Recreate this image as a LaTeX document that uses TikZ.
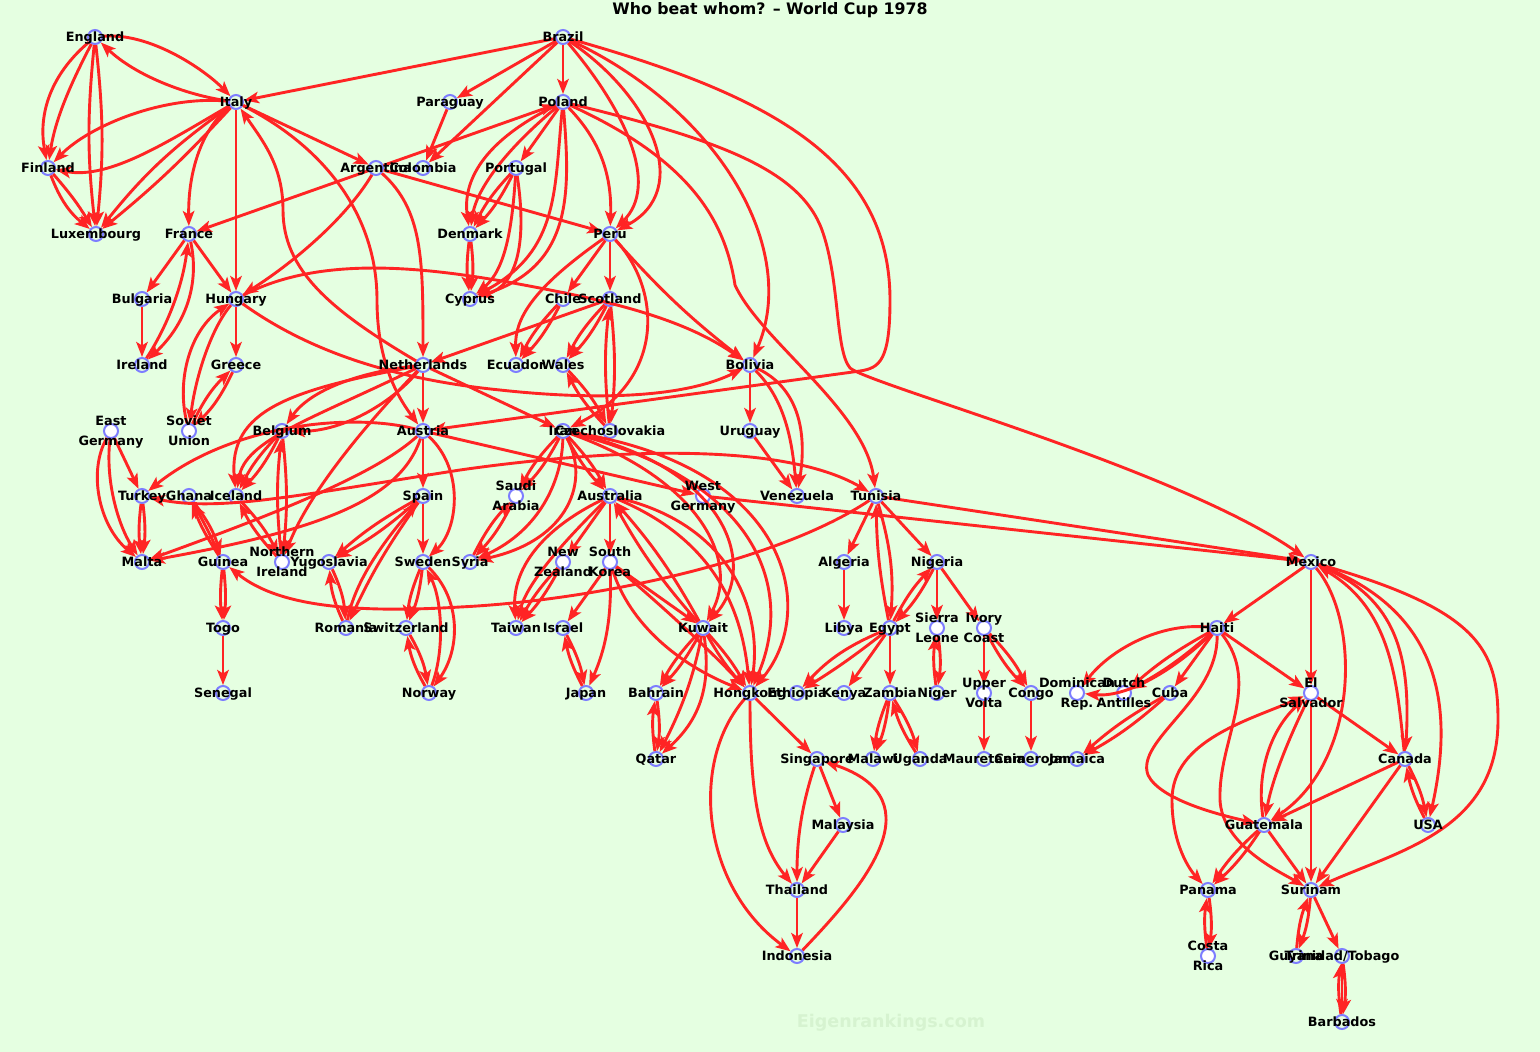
\documentclass[tikz,border=0pt]{standalone}
\usepackage{fontspec}
\setmainfont{DejaVu Sans}
\usepackage{tikz}
\usetikzlibrary{arrows.meta}

\definecolor{pagegreen}{RGB}{229,255,225}
\definecolor{markgreen}{RGB}{214,243,208}
\definecolor{gamered}{RGB}{255,36,36}
\definecolor{ringblue}{RGB}{125,125,255}

\tikzset{
  team/.style={circle, draw=ringblue, line width=2pt, minimum size=14pt, inner sep=0pt, fill=pagegreen},
  duo/.style={team, fill=white},
  lbl/.style={font=\fontsize{12.8}{15}\selectfont\bfseries, inner sep=0pt, anchor=base},
  game/.style={draw=gamered, line width=2.9pt, ->},
  twoway/.style={draw=gamered, line width=2.9pt, <->}
}

\begin{document}
\begin{tikzpicture}[x=1pt, y=-1pt, >={Stealth[length=15pt,width=11.5pt,inset=3.5pt]}]

\useasboundingbox (0,0) rectangle (1540,1052);
\fill[pagegreen] (0,0) rectangle (1540,1052);

\node[font=\fontsize{17.5}{20}\selectfont\bfseries, text=markgreen, anchor=base] (mark) at (891,1027) {Eigenrankings.com};
\node[font=\fontsize{15.8}{18}\selectfont\bfseries, anchor=base] (title) at (770,14) {Who beat whom? – World Cup 1978};

\foreach \n/\x/\y in {eng/95/37, bra/563/37, ita/236/102, par/450/102, pol/563/102,
  fin/48/168, arg/376/168, col/423/168, por/516/168, lux/96/234, fra/189/234, den/470/234, per/610/234,
  bul/142/299, hun/236/299, cyp/470/299, chi/563/299, sco/610/299,
  irl/142/365, gre/236/365, ned/423/365, ecu/516/365, wal/563/365, bol/750/365,
  bel/282/431, aut/423/431, irn/563/431, tch/610/431, uru/750/431,
  tur/142/496, gha/189/496, isl/236/496, esp/423/496, aus/610/496, ven/797/496, tun/876/496,
  mlt/142/562, gui/223/562, yug/329/562, swe/423/562, syr/470/562, alg/844/562, nga/937/562, mex/1311/562,
  tog/223/628, rou/346/628, sui/406/628, tpe/516/628, isr/563/628, kuw/703/628, lby/844/628, egy/890/628, hai/1217/628,
  sen/223/693, nor/429/693, jpn/586/693, bhr/656/693, hkg/750/693, eth/797/693, ken/844/693, zam/890/693,
  nig/937/693, cgo/1031/693, cub/1170/693,
  qat/656/759, sin/817/759, mwi/873/759, uga/920/759, mtn/984/759, cmr/1031/759, jam/1077/759, can/1405/759,
  mas/843/825, gua/1264/825, usa/1428/825, tha/797/890, pan/1208/890, sur/1311/890,
  idn/797/956, guy/1296/956, tri/1342/956, brb/1342/1022}
  \node[team] (\n) at (\x,\y) {};

\foreach \n/\x/\y in {gdr/111/431, urs/189/431, ksa/516/496, frg/703/496, nir/282/562, nzl/563/562, kor/610/562,
  sle/937/628, civ/984/628, bfa/984/693, dom/1077/693, ant/1124/693, slv/1311/693, crc/1208/956}
  \node[duo] (\n) at (\x,\y) {};

\foreach \a/\b/\s in {eng/lux/6, eng/lux/-6, ita/lux/4, ita/lux/-8, fin/lux/-15, fin/lux/5,
  fra/bul/0, bul/irl/0, ita/hun/0, ita/arg/0, arg/fra/0, fra/hun/0,
  bra/ita/0, bra/par/0, bra/col/0, bra/pol/0, par/col/0, pol/por/0, arg/pol/0, arg/per/0,
  por/den/8, por/den/-8, den/cyp/7, den/cyp/-7,
  per/chi/0, chi/ecu/8, chi/ecu/-8, per/sco/0, per/bol/-5, bol/uru/0, uru/ven/0,
  aut/esp/0, esp/swe/0, ned/irn/0, sco/ned/0, ned/aut/0, aut/frg/0, frg/mex/0, tun/mex/0,
  gdr/tur/0, tur/mlt/7, tur/mlt/-7,
  bel/isl/8, bel/isl/-8, bel/nir/6, nir/bel/6, isl/nir/8, nir/isl/8,
  hun/gre/0, urs/gre/10, gre/urs/10,
  swe/sui/8, swe/sui/-8, sui/nor/10, nor/sui/10,
  esp/yug/6, esp/yug/-6, esp/rou/-5, yug/rou/10, rou/yug/10,
  sco/tch/6, tch/sco/6, sco/wal/8, sco/wal/-8, wal/tch/8, tch/wal/8,
  gui/gha/6, gui/gha/-2, gha/gui/10, gui/tog/6, gui/tog/-6, tog/sen/0,
  tun/alg/0, alg/lby/0, tun/nga/0, tun/egy/10, egy/tun/5, nga/egy/8, egy/nga/8,
  nga/sle/0, nga/civ/0, sle/nig/8, nig/sle/8, civ/bfa/0, civ/cgo/8, civ/cgo/-8, bfa/mtn/0, cgo/cmr/0,
  egy/eth/-12, egy/eth/3, egy/ken/0, egy/zam/0, zam/mwi/7, zam/mwi/-7, zam/uga/8, uga/zam/8,
  irn/ksa/8, irn/ksa/-8, ksa/syr/8, syr/ksa/8, irn/aus/7, irn/aus/-7,
  kuw/aus/6, kuw/aus/-6, aus/kor/0, aus/nzl/0, nzl/tpe/7, nzl/tpe/-7,
  kor/kuw/0, kor/isr/0, isr/jpn/8, jpn/isr/8,
  kuw/bhr/7, kuw/bhr/-7, bhr/qat/8, qat/bhr/8, kuw/hkg/6, kuw/hkg/-6,
  hkg/sin/0, sin/mas/0, mas/tha/0, tha/idn/0,
  mex/hai/0, mex/slv/0, hai/ant/6, hai/ant/-6, hai/cub/0, cub/jam/6, cub/jam/-6, hai/slv/0,
  slv/can/0, slv/sur/0, can/gua/0, can/sur/0, can/usa/8, usa/can/8,
  gua/pan/7, gua/pan/-7, gua/sur/0, crc/pan/8, pan/crc/8, sur/guy/8, guy/sur/8, sur/tri/0,
  tri/brb/8, tri/brb/0, brb/tri/8}
  \draw[game] (\a) to[bend left=\s] (\b);

\draw[game] (eng) .. controls (150,32) and (205,70) .. (ita);
\draw[game] (ita) .. controls (185,95) and (135,75) .. (eng);
\draw[game] (eng) .. controls (50,75) and (38,115) .. (fin);
\draw[game] (eng) .. controls (70,85) and (55,120) .. (fin);
\draw[game] (ita) .. controls (165,95) and (90,125) .. (fin);
\draw[game] (ita) .. controls (170,140) and (110,180) .. (fin);
\draw[game] (fra) .. controls (200,285) and (185,325) .. (irl);
\draw[game] (irl) .. controls (165,330) and (182,290) .. (fra);
\draw[game] (ita) .. controls (200,130) and (188,175) .. (fra);
\draw[game] (arg) .. controls (345,220) and (290,265) .. (hun);

\draw[game] (bra) .. controls (625,110) and (660,185) .. (per);
\draw[game] (bra) .. controls (650,95) and (695,190) .. (per);
\draw[game] (bra) .. controls (720,110) and (800,250) .. (bol);
\draw[game] (bra) .. controls (770,95) and (890,160) .. (890,300) .. controls (890,360) and (880,368) .. (860,371) -- (aut);
\draw[game] (pol) .. controls (720,140) and (800,170) .. (822,230) .. controls (840,280) and (835,350) .. (850,368) .. controls (870,385) and (1180,470) .. (mex);
\draw[game] (pol) .. controls (690,160) and (725,220) .. (735,285) .. controls (760,340) and (865,410) .. (tun);
\draw[game] (arg) .. controls (423,210) and (423,260) .. (ned);
\draw[game] (pol) .. controls (600,140) and (612,175) .. (per);
\draw[game] (pol) .. controls (485,140) and (462,180) .. (den);
\draw[game] (pol) .. controls (505,150) and (476,190) .. (den);
\draw[game] (pol) .. controls (554,190) and (560,250) .. (cyp);
\draw[game] (pol) .. controls (570,190) and (574,265) .. (cyp);
\draw[game] (por) .. controls (512,230) and (505,270) .. (cyp);
\draw[game] (por) .. controls (527,240) and (518,285) .. (cyp);
\draw[game] (per) .. controls (530,290) and (515,320) .. (ecu);
\draw[game] (per) .. controls (662,290) and (665,380) .. (irn);
\draw[game] (bol) .. controls (785,400) and (792,440) .. (ven);
\draw[game] (bol) .. controls (803,390) and (806,440) .. (ven);
\draw[game] (hun) .. controls (330,250) and (450,270) .. (560,292) .. controls (650,310) and (700,330) .. (bol);
\draw[game] (hun) .. controls (300,345) and (380,378) .. (500,390) .. controls (610,402) and (690,395) .. (bol);

\draw[game] (aut) .. controls (465,470) and (458,530) .. (swe);
\draw[game] (ned) .. controls (330,310) and (283,270) .. (283,210) .. controls (283,165) and (262,140) .. (ita);
\draw[game] (ita) .. controls (330,150) and (377,220) .. (377,300) .. controls (377,365) and (400,400) .. (aut);
\draw[game] (gdr) .. controls (88,470) and (98,525) .. (mlt);
\draw[game] (gdr) .. controls (105,480) and (118,525) .. (mlt);
\draw[game] (aut) .. controls (380,470) and (300,505) .. (mlt);
\draw[game] (aut) .. controls (400,500) and (320,530) .. (mlt);
\draw[game] (aut) .. controls (350,412) and (230,425) .. (tur);
\draw[twoway] (tur) .. controls (220,512) and (300,495) .. (460,470) .. controls (600,450) and (780,440) .. (tun);
\draw[game] (ned) .. controls (360,372) and (310,390) .. (bel);
\draw[game] (ned) .. controls (395,400) and (345,432) .. (bel);
\draw[game] (ned) .. controls (290,390) and (228,410) .. (isl);
\draw[game] (ned) .. controls (310,420) and (245,440) .. (isl);
\draw[game] (ned) .. controls (370,420) and (310,490) .. (nir);
\draw[game] (hun) .. controls (210,330) and (195,380) .. (urs);
\draw[game] (urs) .. controls (176,380) and (190,330) .. (hun);
\draw[game] (swe) .. controls (462,600) and (460,650) .. (nor);
\draw[game] (nor) .. controls (445,650) and (442,600) .. (swe);
\draw[game] (rou) .. controls (355,580) and (385,540) .. (esp);
\draw[game] (tun) .. controls (780,560) and (600,600) .. (460,607) .. controls (330,615) and (270,600) .. (gui);

\draw[game] (irn) .. controls (562,480) and (540,530) .. (syr);
\draw[game] (irn) .. controls (590,480) and (570,540) .. (syr);
\draw[game] (irn) .. controls (700,480) and (740,560) .. (kuw);
\draw[game] (irn) .. controls (725,465) and (760,565) .. (kuw);
\draw[game] (irn) .. controls (760,480) and (795,590) .. (hkg);
\draw[game] (irn) .. controls (790,465) and (820,610) .. (hkg);
\draw[game] (aus) .. controls (540,530) and (512,570) .. (tpe);
\draw[game] (aus) .. controls (560,545) and (526,585) .. (tpe);
\draw[game] (aus) .. controls (715,540) and (742,610) .. (hkg);
\draw[game] (aus) .. controls (735,525) and (762,615) .. (hkg);
\draw[game] (kor) .. controls (630,625) and (680,665) .. (hkg);
\draw[game] (kor) .. controls (655,600) and (705,645) .. (hkg);
\draw[game] (kor) .. controls (612,620) and (605,650) .. (jpn);
\draw[game] (kuw) .. controls (693,680) and (680,712) .. (qat);
\draw[game] (kuw) .. controls (712,690) and (697,722) .. (qat);
\draw[game] (hkg) .. controls (750,800) and (760,845) .. (tha);
\draw[game] (hkg) .. controls (690,760) and (700,885) .. (idn);
\draw[game] (sin) .. controls (800,810) and (797,845) .. (tha);
\draw[game] (idn) .. controls (860,890) and (940,800) .. (sin);

\draw[game] (mex) .. controls (1390,595) and (1412,645) .. (can);
\draw[game] (can) .. controls (1397,685) and (1393,610) .. (mex);
\draw[game] (mex) .. controls (1440,610) and (1455,705) .. (usa);
\draw[game] (mex) .. controls (1480,610) and (1498,650) .. (1498,720) .. controls (1498,830) and (1400,850) .. (sur);
\draw[game] (mex) .. controls (1360,620) and (1360,760) .. (gua);
\draw[game] (hai) .. controls (1160,622) and (1110,650) .. (dom);
\draw[game] (hai) .. controls (1180,665) and (1130,698) .. (dom);
\draw[game] (hai) .. controls (1218,700) and (1135,740) .. (1148,775) .. controls (1160,800) and (1220,815) .. (gua);
\draw[game] (hai) .. controls (1262,685) and (1218,740) .. (1220,800) .. controls (1222,845) and (1280,872) .. (sur);
\draw[twoway] (slv) .. controls (1250,720) and (1172,740) .. (1172,800) .. controls (1172,845) and (1190,870) .. (pan);
\draw[game] (gua) .. controls (1256,770) and (1272,728) .. (slv);
\draw[game] (slv) .. controls (1288,740) and (1272,780) .. (gua);

\foreach \n/\t in {eng/England, bra/Brazil, ita/Italy, par/Paraguay, pol/Poland, fin/Finland, arg/Argentina,
  col/Colombia, por/Portugal, lux/Luxembourg, fra/France, den/Denmark, per/Peru, bul/Bulgaria, hun/Hungary,
  cyp/Cyprus, chi/Chile, sco/Scotland, irl/Ireland, gre/Greece, ned/Netherlands, ecu/Ecuador, wal/Wales,
  bol/Bolivia, bel/Belgium, aut/Austria, irn/Iran, tch/Czechoslovakia, uru/Uruguay, tur/Turkey, gha/Ghana,
  isl/Iceland, esp/Spain, aus/Australia, ven/Venezuela, tun/Tunisia, mlt/Malta, gui/Guinea, yug/Yugoslavia,
  swe/Sweden, syr/Syria, alg/Algeria, nga/Nigeria, mex/Mexico, tog/Togo, rou/Romania, sui/Switzerland,
  tpe/Taiwan, isr/Israel, kuw/Kuwait, lby/Libya, egy/Egypt, hai/Haiti, sen/Senegal, nor/Norway, jpn/Japan,
  bhr/Bahrain, hkg/Hongkong, eth/Ethiopia, ken/Kenya, zam/Zambia, nig/Niger, cgo/Congo, cub/Cuba, qat/Qatar,
  sin/Singapore, mwi/Malawi, uga/Uganda, mtn/Mauretania, cmr/Cameroon, jam/Jamaica, can/Canada,
  mas/Malaysia, gua/Guatemala, usa/USA, tha/Thailand, pan/Panama, sur/Surinam, idn/Indonesia,
  guy/Guyana, tri/{Trinidad/Tobago}, brb/Barbados}
  \node[lbl] (\n-t) at ([yshift=-4.6pt]\n.center) {\t};

\foreach \n/\a/\b in {gdr/East/Germany, urs/Soviet/Union, ksa/Saudi/Arabia, frg/West/Germany,
  nir/Northern/Ireland, nzl/New/Zealand, kor/South/Korea, sle/Sierra/Leone, civ/Ivory/Coast,
  bfa/Upper/Volta, dom/Dominican/Rep., ant/Dutch/Antilles, slv/El/Salvador, crc/Costa/Rica}
{
  \node[lbl] (\n-a) at ([yshift=5.4pt]\n.center) {\a};
  \node[lbl] (\n-b) at ([yshift=-14.6pt]\n.center) {\b};
}

\end{tikzpicture}
\end{document}
